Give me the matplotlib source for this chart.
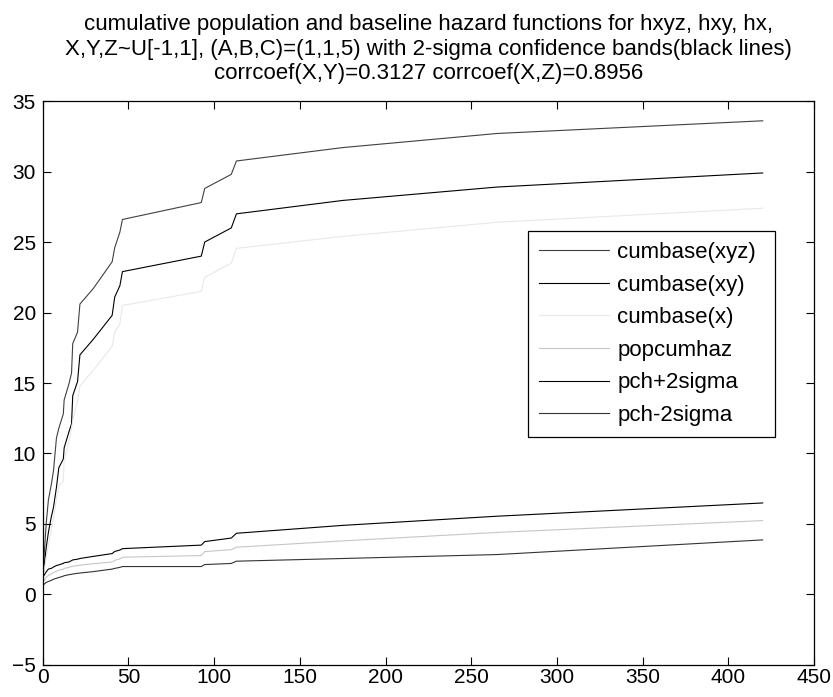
import numpy as np
import matplotlib
matplotlib.use("Agg")
import matplotlib.pyplot as plt

plt.rcParams['font.family'] = ['Liberation Sans', 'DejaVu Sans']

# event times (shared by all curves)
t = [0, 2, 3.3, 5, 6.3, 8, 9.4, 12, 12.5, 15.2, 16.8, 17.5, 20.3, 21.7, 29.5,
     40.5, 42, 45, 46.5, 92.5, 94.5, 110, 113, 175, 265, 420]

cumbase_xyz = [1.2, 5.0, 6.7, 7.8, 8.8, 11.1, 11.8, 12.8, 13.8, 14.9, 15.7, 17.8,
               18.6, 20.6, 21.7, 23.6, 24.6, 25.7, 26.6, 27.8, 28.8, 29.8, 30.75,
               31.7, 32.7, 33.6]
cumbase_xy = [1.1, 3.3, 4.4, 5.5, 6.2, 7.6, 9.0, 9.6, 10.4, 11.5, 12.1, 14.1,
              15.1, 17.0, 18.1, 19.8, 21.1, 21.9, 22.9, 24.0, 25.0, 26.0, 27.0,
              27.95, 28.9, 29.9]
cumbase_x = [1.0, 2.6, 3.5, 4.6, 5.4, 6.8, 7.7, 8.0, 9.5, 10.8, 11.8, 12.3,
             13.7, 14.8, 15.9, 17.6, 18.6, 19.2, 20.5, 21.5, 22.5, 23.5, 24.55,
             25.4, 26.4, 27.4]
popcumhaz = [0.87, 1.2, 1.35, 1.46, 1.55, 1.65, 1.72, 1.8, 1.85, 1.92, 1.97, 2.0,
             2.05, 2.08, 2.18, 2.3, 2.42, 2.52, 2.64, 2.76, 3.04, 3.18, 3.35,
             3.8, 4.4, 5.24]
pch_plus = [1.2, 1.6, 1.8, 1.85, 1.95, 2.05, 2.1, 2.2, 2.25, 2.3, 2.4, 2.45,
            2.5, 2.55, 2.7, 2.9, 3.05, 3.15, 3.25, 3.5, 3.75, 4.0, 4.34,
            4.9, 5.55, 6.49]
pch_minus = [0.64, 0.85, 0.92, 1.0, 1.08, 1.15, 1.2, 1.3, 1.33, 1.4, 1.43, 1.45,
             1.5, 1.52, 1.62, 1.8, 1.85, 1.92, 1.98, 1.98, 2.12, 2.2, 2.36,
             2.55, 2.83, 3.87]

labels = ['cumbase(xyz)', 'cumbase(xy)', 'cumbase(x)', 'popcumhaz',
          'pch+2sigma', 'pch-2sigma']
colors = ['#404040', 'black', '#e8e8e8', '#c6c6c6', 'black', '#333333']

fig = plt.figure(figsize=(8.33, 6.97), dpi=100)
ax = fig.add_axes([0.0513, 0.046, 0.926, 0.809])

series = [cumbase_xyz, cumbase_xy, cumbase_x, popcumhaz, pch_plus, pch_minus]
for y, lab, c in zip(series, labels, colors):
    ax.plot(t, y, color=c, lw=0.8, label=lab)

ax.set_xlim(0, 450)
ax.set_ylim(-5, 35)
ax.set_xticks(np.arange(0, 451, 50))
ax.set_yticks(np.arange(-5, 36, 5))
ax.tick_params(direction='in', top=True, right=True, length=5.5,
               labelsize=15, width=0.8)
ax.tick_params(axis='x', pad=2.5)
ax.tick_params(axis='y', pad=5)
for s in ax.spines.values():
    s.set_linewidth(0.9)

ax.set_title('cumulative population and baseline hazard functions for hxyz, hxy, hx,\n'
             'X,Y,Z~U[-1,1], (A,B,C)=(1,1,5) with 2-sigma confidence bands(black lines)\n'
             'corrcoef(X,Y)=0.3127 corrcoef(X,Z)=0.8956', fontsize=16, pad=16)

leg = ax.legend(loc='upper left', bbox_to_anchor=(0.629, 0.7695, 0.32, 0),
                mode='expand', fontsize=16, handlelength=3.15,
                handletextpad=0.37, fancybox=False, edgecolor='black',
                framealpha=1, borderaxespad=0, borderpad=0.5, labelspacing=0.52)
leg.get_frame().set_linewidth(0.9)

fig.savefig('out.png', dpi=100)
